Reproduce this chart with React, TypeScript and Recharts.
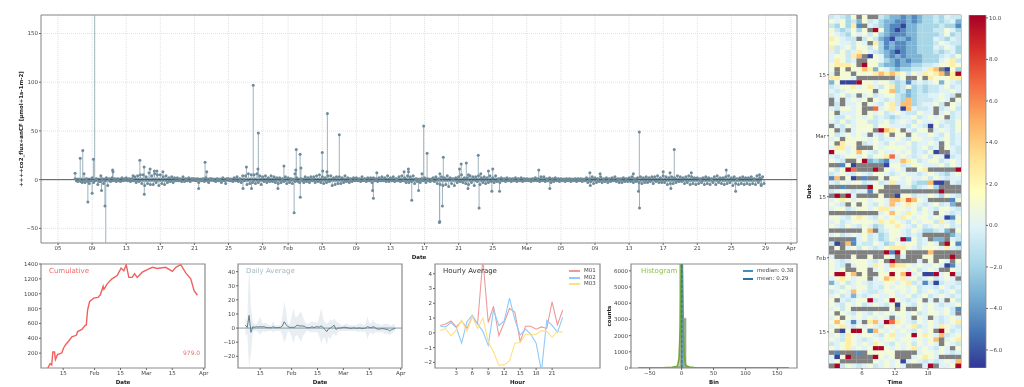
import {
  Area,
  Bar,
  BarChart,
  CartesianGrid,
  ComposedChart,
  ErrorBar,
  Line,
  LineChart,
  ReferenceArea,
  ReferenceLine,
  Scatter,
  ScatterChart,
  XAxis,
  YAxis,
} from 'recharts'

// Flux dashboard: time series on top, four small panels below, heatmap on the right.
// Dates are days of the year (1 = Jan 01).

const FONT = '"DejaVu Sans", sans-serif'
const TICK = { fontSize: 5.5, fill: '#444', fontFamily: FONT }
const TITLE = { fontSize: 5.5, fontWeight: 700, fill: '#222', fontFamily: FONT, textAnchor: 'middle' }
const FRAME = '#8a8a8a'

const mainTickDays = [5, 9, 13, 17, 21, 25, 29, 32, 36, 40, 44, 48, 52, 56, 60, 64, 68, 72, 76, 80, 84, 88, 91]
const mainTickLabels = ['05', '09', '13', '17', '21', '25', '29', 'Feb', '05', '09', '13', '17', '21', '25', 'Mar', '05', '09', '13', '17', '21', '25', '29', 'Apr']
const smallTickDays = [15, 32, 46, 60, 74, 91]
const smallTickLabels = ['15', 'Feb', '15', 'Mar', '15', 'Apr']

// six readings per day, first row is day 7
const fluxBand = [
  [1, -1, -2, 0, -2, -3], [-1, -3, 1, -2, -4, -1], [2, -3, -1, 1, -5, -2], [-2, 1, -4, -1, 2, -6],
  [1, -2, 2, -1, 1, -2], [1, -1, -2, 2, -1, 1], [2, -1, 1, -2, 1, -1], [3, -3, 4, -2, 5, -4],
  [5, -6, 3, -4, 7, -5], [4, -5, 6, -3, 5, -6], [5, -4, 3, -5, 4, -3], [2, -2, 3, -3, 2, -1],
  [2, -1, 1, -2, 3, -2], [1, -1, 2, -2, 1, 1], [1, -1, 1, -3, 0, -1], [1, -2, 2, -1, -3, 1],
  [1, 0, -1, -2, 1, -1], [0, -3, 2, -1, -4, 1], [1, -1, 0, -2, 2, -1], [3, -2, 1, -3, 4, -1],
  [4, -5, 6, -4, 5, -3], [5, -4, 6, -3, 4, -5], [3, -2, 4, -3, 2, -2], [4, -2, 3, -3, 2, -4],
  [2, -3, 1, -2, 3, -4], [2, -3, 1, -4, 0, -2], [2, -2, -3, 1, -1, -3], [3, -2, 2, -3, 3, -1],
  [3, -3, 4, -2, 5, -3], [3, -4, 2, -3, 4, -2], [4, -6, 2, -5, 3, -4], [3, -4, 2, -3, 4, -2],
  [2, -3, 1, -2, 2, -1], [2, -1, 1, -2, 3, -1], [1, -2, 2, -1, 2, -3], [2, -1, 1, -2, 2, -1],
  [3, -1, 2, -2, 4, -2], [2, -1, 3, -2, 1, -1], [3, -2, 4, -1, 2, -3], [4, -3, 3, -2, 4, -4],
  [1, -2, 0, -3, 1, -1], [2, -3, 1, -1, -2, 0], [2, -2, 3, -4, 1, -5], [3, -6, 2, -5, 4, -7],
  [2, -4, 1, -6, 2, -3], [3, -2, 5, -3, 2, -4], [2, -5, 4, -3, 3, -6], [3, -2, 4, -5, 2, -3],
  [3, -4, 2, -3, 4, -2], [2, -3, 4, -2, 1, -3], [2, -1, 1, -2, 2, -1], [1, -2, 1, -1, 2, -2],
  [1, -1, 2, -2, 1, -1], [1, -1, 0, -2, 1, -1], [2, -1, 1, -2, 3, -1], [3, -2, 1, -1, 2, -3],
  [1, -2, 2, -1, 1, -2], [1, -1, 0, -2, 1, -1], [1, -2, 0, -1, 1, -2], [1, -1, 1, -2, 0, -1],
  [2, -3, 1, -2, 3, -4], [2, -3, 1, -2, 3, -3], [1, -2, 2, -3, 1, -2], [2, -1, 3, -2, 1, -3],
  [1, -3, 2, -2, 1, -2], [2, -2, 3, -3, 1, -2], [2, -3, 3, -4, 2, -3], [3, -3, 2, -2, 3, -4],
  [3, -2, 4, -3, 2, -3], [4, -3, 3, -5, 2, -4], [3, -4, 2, -3, 4, -2], [3, -2, 2, -4, 3, -3],
  [4, -5, 3, -4, 2, -5], [2, -4, 1, -3, 2, -5], [3, -4, 2, -5, 1, -3], [3, -5, 4, -3, 2, -4],
  [2, -5, 3, -4, 4, -3], [2, -6, 3, -4, 1, -5], [2, -4, 3, -5, 2, -4], [2, -5, 3, -4, 1, -5],
  [4, -3, 2, -5, 3, -4],
]

const spikeDays = [
  7.0, 7.6, 7.9, 8.05, 8.5, 9.0, 9.15, 9.3, 10.02, 10.1, 10.5, 10.6, 11.4, 11.45, 13.8, 14.6, 15.1, 15.12, 15.8, 16.3,
  16.6, 17.3, 21.5, 22.25, 22.45, 26.7, 27.1, 27.7, 27.9, 28.45, 28.5, 30.8, 31.5, 32.7, 32.8, 32.9, 32.95, 33.4, 33.42, 33.5,
  36.0, 36.05, 36.55, 36.6, 38.0, 41.9, 42.0, 42.4, 45.6, 46.1, 46.12, 46.5, 47.3, 47.7, 47.9, 48.3, 49.75, 49.78, 49.8, 50.1,
  50.2, 52.1, 52.3, 52.9, 53.1, 53.15, 54.3, 54.4, 54.6, 55.5, 55.9, 56.0, 56.8, 61.4, 62.7, 67.4, 67.45, 68.6, 72.5, 73.1,
  73.2, 73.22, 76.0, 76.8, 76.9, 77.3, 79.3, 83.4, 84.5, 87.3, 87.5,
]
const spikeValues = [
  6.5, 22, 30, 6, -23, -14, 21, 262, 4, -11, -27, -200, 10, 8, 4, 20, 13, -15, 11, 9,
  9, 8, -9, 18, 8, -9, 13, -9, 97, 11, 48, -9, 14, -34, 6, 10, 31, 26, -18, 12,
  28, 9, 8, 68, 46, -11, -19, 7, 8, 11, 8, -21, -11, 6, 55, 27, -44, -43, 6, -27,
  23, 11, 16, 17, -9, 5, 25, -29, 6, 9, -12, 11, -12, 10, -9, 7, -6, 6, 6, -12,
  49, -29, 8, 7, -9, 31, 7, 10, -12, 5, -6,
]
const fluxDomain = [-65, 169]

const cumDays = [6.7, 7.9, 8.8, 9.4, 10.3, 10.8, 11.9, 14.3, 15.2, 16.5, 17.9, 19.7, 22.1, 22.8, 25.1, 26.9, 27.5, 28.2, 29.3, 31.5, 33.8, 35.1, 36.6, 37.0, 37.8, 38.7, 41.4, 44.2, 46.3, 47.8, 49.1, 50.5, 52.3, 53.6, 55, 57.8, 60.5, 63.2, 65.9, 70.4, 74.1, 75.9, 78.6, 81.3, 84, 85.8, 87.6]
const cumValues = [0, 60, 40, 215, 215, 115, 180, 205, 270, 320, 360, 420, 440, 490, 520, 575, 580, 780, 895, 940, 950, 985, 1100, 1060, 1090, 1130, 1200, 1245, 1345, 1310, 1390, 1220, 1220, 1270, 1220, 1290, 1325, 1355, 1340, 1355, 1300, 1355, 1390, 1280, 1200, 1040, 979]

const dailyDays = [7, 8, 9, 10, 11, 12, 13, 14, 15, 16, 17, 18, 19, 20, 21, 22, 23, 24, 25, 26, 27, 28, 29, 30, 31, 32, 33, 34, 35, 36, 37, 38, 39, 40, 41, 42, 43, 44, 45, 46, 47, 48, 49, 50, 51, 52, 53, 54, 55, 56, 57, 58, 59, 60, 61, 62, 63, 64, 65, 66, 67, 68, 69, 70, 71, 72, 73, 74, 75, 76, 77, 78, 79, 80, 81, 82, 83, 84, 85, 86, 87, 88]
const dailyMean = [2, 0.5, 9, -3, 1, 0.5, 1, 0.7, 1, 0.8, 1, 0.5, 0.3, 0.3, 0.2, 1, 0.3, 0.3, 0.4, 0.5, 1.5, 4.5, 2.5, 1, 0.5, 0.5, 0.5, 0.8, 2.2, 1.5, 1.5, 1.5, 1.2, 0.3, 0.3, 0.2, 1, 0.3, 0.8, 1, 0.7, 1.5, 0.5, -1, -2.5, -0.5, 0, 1, 2, -1, 0, 0, 0.2, 0.5, 0.6, 0.2, 0, -0.2, 0, 0.1, -0.2, 0, 0.1, -0.3, -0.2, 0, 1, 0.5, 0.2, 1, 0.4, -0.5, -0.8, -0.6, -0.4, -0.5, -0.9, -1, -2, -1.2, -0.6, -0.3]
const dailyHigh = [8, 5, 45, 15, 4, 3, 3, 5, 8, 4, 3, 4, 3, 2, 2, 5, 2, 2, 2, 2, 8, 19, 12, 3, 3, 8, 14, 8, 8, 10, 12, 8, 5, 3, 3, 4, 5, 4, 4, 4, 8, 14, 7, 4, 3, 4, 6, 5, 7, 5, 4, 3, 2, 2, 3, 3, 2, 2, 2, 2, 2, 3, 3, 3, 2, 3, 8, 4, 3, 6, 4, 3, 3, 2, 2, 3, 3, 3, 2, 2, 3, 2]
const dailyLow = [-5, -4, -28, -18, -3, -2, -2, -3, -5, -3, -2, -3, -2, -2, -2, -3, -2, -2, -2, -2, -5, -10, -7, -2, -3, -6, -11, -6, -5, -7, -10, -6, -4, -2, -2, -3, -3, -3, -3, -3, -6, -11, -7, -7, -12, -6, -8, -5, -4, -6, -3, -2, -2, -2, -2, -2, -2, -2, -2, -2, -2, -3, -2, -3, -2, -3, -8, -4, -3, -5, -3, -3, -3, -3, -3, -4, -4, -4, -5, -4, -3, -2]

const hours = [0, 1, 2, 3, 4, 5, 6, 7, 8, 9, 10, 11, 12, 13, 14, 15, 16, 17, 18, 19, 20, 21, 22, 23]
const m01 = [0.5, 0.6, 0.8, 0.4, 0.8, 0.3, 1.1, 0.6, 5, 0.7, 1.8, -0.2, 0.7, 1.65, 1.4, -0.6, 0.45, 0.45, 0.25, 0.4, 0.3, 2.1, 0.55, 1.55]
const m02 = [0.45, 0.4, 0.7, 0.35, -0.7, 0.75, 1.2, 0.6, 0.1, -0.85, 1.55, 0.5, 0.8, 2.35, 0.9, -0.15, 0.25, -0.1, -0.7, -2.6, 0.85, 0.5, 0.05, 1.05]
const m03 = [0.15, 0.3, -0.2, 0.2, 0.85, 0.1, 1.1, 0.3, 1, -0.6, -1.3, -2.2, -2.15, -1.9, -0.7, -0.65, -0.1, -0.15, -0.1, 0.15, 0.1, -0.3, 0.1, 0.05]

const binStarts = [-13, -8, -3, 2, 7, 12]
const binEnds = [-8, -3, 2, 7, 12, 17]
const binCounts = [40, 110, 6500, 3070, 90, 25]
const kdeBins = [-68, -30, -15, -8, -6, -4, -2, -1, 0, 1, 2, 3, 4, 6, 8, 12, 20, 60, 168]
const kdeCounts = [15, 20, 40, 90, 170, 620, 2600, 5200, 7200, 6400, 4400, 2000, 800, 220, 120, 60, 25, 15, 15]

// heatmap, one string per day from latest (top) to earliest; groups are six hours each
// . = no data, a..k = colour level
const heatLevels: Record<string, number> = { a: -6.5, b: -4.6, c: -3.2, d: -1.9, e: -0.8, f: -0.1, g: 0.9, h: 2.6, i: 4.5, j: 6.8, k: 10 }
const heatRows = [
  'efedg. g..edc cbcbcd dedfee', 'gfgdec gefdcc bbcbcd dedefc', 'edgdhb .fedcb baccdd ddeddb',
  'gedegd g.kgcb abccdd deegfd', 'gfedgf gegdcb bbccdd ddegde', 'hgfee. egecba ccbcdd dfedfe',
  'ggffeg f.hdbc bbccdd degfee', 'hefgeg gegdbc bbccdd dfegfd', 'fegefh gfedcb abccdd dedefd',
  'fggehi .agfcb cbcccd ddefeg', 'fhgef. .ggfdc bcbccd ddfghe', 'ghhhg. kggdcc bccdde efgghg',
  'g.g.gg ihcgfd cddeef hi.agd', 'f.gg.g gghihi hgegfh ghi.hk', 'hhggf. ...... eg..g. hggghh',
  'cgaaak ggfgge debefe fgcgfe', 'efgghf ghfegh degded eefgef', 'fefggg gg.ggi decded eeffgf',
  'efgef. fgefgg edcdee ffgfe.', '.f.fgf g.gfef edidee efgf.g', '.e.ffg .gfegh eiidef fge.gf',
  'feggfg ..jfgh faifee f.efge', 'g.fffg .gfgef gfeegf f.fgef', 'geegfg fgefed effgef gfg.ef',
  'fegefg geefge fgfegf fgfeeg', '.fegfg ggeggf ffegfe agefeg', 'g.e.fg gg.kih g.fegg .fgfeg',
  'gefgfg f.feg. gg.gff gfegef', 'fg.ggg gfgeff gfeggf fefgef', 'g.hgg. efgfeg ffgeff gf.gef',
  'fhhfg. ..gfgg ggfefg ef.gfe', 'kggfgi gfegff gfgefe ga..fe', 'fefggf gegghj fgfefg egfaef',
  'gfe..g kcdcbf fihgef ggefgf', '..bga. ....ag gefggf ffgegf', 'gegkj. ..k.gf gf..gh .....k',
  'efgfeg feggfe fgffef gfedfg', 'bi.ga. b..g.g gfgffg egfeff', 'fegfgg efgefh ffgedd iaa.fe',
  '..b... .kgg.. .ffdef gd....', 'efgfef fbg... ...... ..k...', '.k.kf. ...g.. aggeff gfdgfe',
  'fghgfg gfggfi ihjigf ....bg', 'gfe.g. gfegfi fghgfe fgefc.', 'fggefg gfghhf ggfgeg feggfe',
  '...... ...fgi gfhgfg f.gfef', 'ggfegh gfegfg fhgfgg fgfabg', 'fgefgg ggfhgh gfegfg gehfeg',
  'gfegfe gfdegg hgfege fgfgef', '...... gi.efg gfegfd defc.g', 'fgefgf gefdeg gfefe. ....ce',
  '....bf gefdeg fkbgef .cc.fe', 'ea.ibf eegfde gfggef gf.kgb', '.g.fge gfefgh hhgfeg ggfhfe',
  '...... ....kb kg.... i.....', 'f...g. .g..gf .f...g g...k.', 'gfefgg gfeg.k ....f. g.gf.g',
  'gfe.fg gfhgfi hhgfgf fgfabf', 'gfg..g g.fgfg ggfgef gf..gf', 'gkkgi. g..ggk gikfga akfgke',
  'fghgfg g.fgih ghfgef gefgf.', 'cfgefg feffgg fghefb eaeffe', 'gfegfg gefegf ggfgef fegfef',
  'efgfig feefgg fgfgef gfefge', 'fgefcf efgffg ffgefg efgfef', 'g.fefg gkefgk gfefg. f.f.ge',
  'gfegfg efgfeg agfegf gfeffg', 'fgeg.. .....g .g..gf gffgeb', 'g.gfeg fegfgf ggfgef ggfge.',
  'fg.gfg fgfgf. fgf.gf .fefgf', 'gigfbf .hifkj hgfegf gfefgh', 'fghfeg fgfegf gfghef gfhgfe',
  'g.agkk gbigfg fgfegf g.kgef', 'fgehgf ggfegh ffgkgh gfiefg', 'gfehgf efgfgg fggfgf gi.fgh',
  'efghgf gfhgfe gfgegf gf.gfe', 'gfghfg fgkkgf gfghfg fegf.g', '.b...b .ggggg ....fg gfgfef',
  'fagk.. ..kgfg ...fgh gf....', 'fg.... ..gfgf gafgfe fefgfi', '.kegfe fgefgf gf...f k.ffgk',
]
const heatTopDay = 87.2
const colorTicks = [-6, -4, -2, 0, 2, 4, 6, 8, 10]
const colorSpan = [-6.87, 10.14]
const rdYlBu = ['#313695', '#4575b4', '#74add1', '#abd9e9', '#e0f3f8', '#ffffbf', '#fee090', '#fdae61', '#f46d43', '#d73027', '#a50026']

// stems run from the reading back to zero and stop at the frame, error bars are not clipped
const stemOf = (v: number) =>
  v > 0 ? [v, Math.min(0, fluxDomain[1] - v)] : [Math.min(0, v - fluxDomain[0]), -v]

// tables for the charts
const fluxRows = [
  ...fluxBand.flatMap((row, d) => row.map((flux, i) => ({ day: 7 + d + i / 6, flux }))),
  ...spikeDays.map((day, i) => ({ day, flux: spikeValues[i] })),
]
  .sort((a, b) => a.day - b.day)
  .map((r) => ({ ...r, stem: stemOf(r.flux) }))
const cumRows = cumDays.map((day, i) => ({ day, total: cumValues[i] }))
const dailyRows = dailyDays.map((day, i) => ({ day, mean: dailyMean[i], band: [dailyLow[i], dailyHigh[i]] }))
const hourRows = hours.map((hour, i) => ({ hour, m01: m01[i], m02: m02[i], m03: m03[i] }))
const kdeRows = kdeBins.map((bin, i) => ({ bin, kde: kdeCounts[i] }))

const heatColor = (v: number) => {
  const t = (v - colorSpan[0]) / (colorSpan[1] - colorSpan[0])
  const p = Math.min(0.9999, Math.max(0, t)) * (rdYlBu.length - 1)
  const i = Math.floor(p)
  const hex = (s: string, k: number) => parseInt(s.slice(k, k + 2), 16)
  const mix = (k: number) => Math.round(hex(rdYlBu[i], k) + (hex(rdYlBu[i + 1], k) - hex(rdYlBu[i], k)) * (p - i))
  return `rgb(${mix(1)},${mix(3)},${mix(5)})`
}
const heatPoints = heatRows.flatMap((row, r) =>
  row.replace(/ /g, '').split('').map((c, h) => ({
    hour: h + 0.5,
    day: heatTopDay - r,
    fill: c === '.' ? '#808080' : heatColor(heatLevels[c]),
  })),
)

const minus = (v: number | string) => String(v).replace('-', '\u2212')
const mainLabel = (v: number) => mainTickLabels[mainTickDays.indexOf(v)]
const smallLabel = (v: number) => smallTickLabels[smallTickDays.indexOf(v)]

const LEFT = 40
const RIGHT = 6
const TOP = 6
const BOTTOM = 22
const margin = { top: TOP, right: RIGHT, left: 0, bottom: 0 }
const axisX = { height: BOTTOM, tick: TICK, tickSize: 2, tickMargin: 1, axisLine: false, tickLine: { stroke: '#666' }, interval: 0 as const, allowDataOverflow: true }
const axisY = { width: LEFT, tick: TICK, tickSize: 2, tickMargin: 1, axisLine: false, tickLine: { stroke: '#666' }, interval: 0 as const, allowDataOverflow: true }
const dayDomain = [3, 91.7]
const xTitle = (value: string) => ({ value, position: 'insideBottom' as const, offset: 6, style: TITLE })
const yTitle = (value: string, offset: number) => ({ value, angle: -90, position: 'insideLeft' as const, offset, style: TITLE })

// place a chart so that its plot area lands on the given rectangle
const size = (x0: number, y0: number, x1: number, y1: number) => ({
  width: x1 - x0 + LEFT + RIGHT,
  height: y1 - y0 + TOP + BOTTOM,
  style: { position: 'absolute' as const, left: x0 - LEFT, top: y0 - TOP },
})

function Frame({ x, y, width = 1.2 }: { x: number[]; y: number[]; width?: number }) {
  return (
    <ReferenceArea x1={x[0]} x2={x[1]} y1={y[0]} y2={y[1]} fill="none" stroke={FRAME} strokeWidth={width} ifOverflow="visible" />
  )
}

function Note({ x, y, color, size: fs = 7, children }: any) {
  return (
    <span style={{ position: 'absolute', left: x, top: y, color, fontSize: fs, lineHeight: 1, fontFamily: FONT, whiteSpace: 'pre' }}>
      {children}
    </span>
  )
}

function Key({ x, y, w, color, dashed, children }: any) {
  return (
    <>
      <span style={{ position: 'absolute', left: x, top: y + 2, width: w, borderTop: `2px ${dashed ? 'dashed' : 'solid'} ${color}` }} />
      <Note x={x + w + 4} y={y} color="#444" size={5.5}>{children}</Note>
    </>
  )
}

export default function App() {
  return (
    <div style={{ position: 'absolute', left: 0, top: 0, width: 1024, height: 387, background: '#fff', overflow: 'hidden', filter: 'blur(0.35px)' }}>
      <ComposedChart {...size(41, 15, 797, 243)} data={fluxRows} margin={margin}>
        <CartesianGrid stroke="#cfd8dc" strokeDasharray="1 1" strokeWidth={0.7} />
        <XAxis dataKey="day" type="number" domain={dayDomain} ticks={mainTickDays} tickFormatter={mainLabel} label={xTitle('Date')} {...axisX} />
        <YAxis type="number" domain={fluxDomain} ticks={[-50, 0, 50, 100, 150]} tickFormatter={minus} label={yTitle('++++co2_flux+anCF  [\u00b5mol+1s-1m-2]', 20)} {...axisY} />
        <ReferenceLine segment={[{ x: 7, y: 0 }, { x: 87.6, y: 0 }]} stroke="#6f8b99" strokeWidth={4} />
        <Line dataKey="flux" stroke="none" dot={{ r: 1.5, fill: '#6f8b99', stroke: 'none' }} activeDot={false} isAnimationActive={false}>
          <ErrorBar dataKey="stem" direction="y" width={0} stroke="#9fb3be" strokeWidth={1} isAnimationActive={false} />
        </Line>
        <ReferenceLine y={0} stroke="#37474f" strokeWidth={0.9} />
        <Frame x={dayDomain} y={fluxDomain} width={1} />
      </ComposedChart>

      <LineChart {...size(41, 264, 205, 368)} data={cumRows} margin={margin}>
        <XAxis dataKey="day" type="number" domain={dayDomain} ticks={smallTickDays} tickFormatter={smallLabel} label={xTitle('Date')} {...axisX} />
        <YAxis type="number" domain={[0, 1400]} ticks={[200, 400, 600, 800, 1000, 1200, 1400]} {...axisY} />
        <Line dataKey="total" stroke="#f0605e" strokeWidth={1.4} dot={false} isAnimationActive={false} />
        <Frame x={dayDomain} y={[0, 1400]} />
      </LineChart>
      <Note x={49} y={268} color="#ef6a68">Cumulative</Note>
      <Note x={183} y={350} color="#ef6a68" size={6}>979.0</Note>

      <ComposedChart {...size(238, 264, 402, 368)} data={dailyRows} margin={margin}>
        <XAxis dataKey="day" type="number" domain={dayDomain} ticks={smallTickDays} tickFormatter={smallLabel} label={xTitle('Date')} {...axisX} />
        <YAxis type="number" domain={[-28.3, 45.4]} ticks={[-20, -10, 0, 10, 20, 30, 40]} tickFormatter={minus} {...axisY} />
        <Area dataKey="band" stroke="none" fill="#e8eef1" fillOpacity={1} isAnimationActive={false} />
        <ReferenceLine y={0} stroke="#78909c" strokeWidth={0.9} />
        <Line dataKey="mean" stroke="#607d8b" strokeWidth={1} dot={false} isAnimationActive={false} />
        <Frame x={dayDomain} y={[-28.3, 45.4]} />
      </ComposedChart>
      <Note x={246} y={268} color="#a5b8c2">Daily Average</Note>

      <LineChart {...size(435, 264, 600, 368)} data={hourRows} margin={margin}>
        <XAxis dataKey="hour" type="number" domain={[-1, 30]} ticks={[3, 6, 9, 12, 15, 18, 21]} label={xTitle('Hour')} {...axisX} />
        <YAxis type="number" domain={[-2.38, 4.66]} ticks={[-2, -1, 0, 1, 2, 3, 4]} tickFormatter={minus} {...axisY} />
        <Line dataKey="m01" stroke="#ef9a9a" strokeWidth={1.1} dot={false} isAnimationActive={false} />
        <Line dataKey="m02" stroke="#90caf9" strokeWidth={1.1} dot={false} isAnimationActive={false} />
        <Line dataKey="m03" stroke="#ffe082" strokeWidth={1.1} dot={false} isAnimationActive={false} />
        <Frame x={[-1, 30]} y={[-2.38, 4.66]} />
      </LineChart>
      <Note x={443} y={268} color="#333">Hourly Average</Note>
      <Key x={569} y={268} w={11} color="#ef9a9a">M01</Key>
      <Key x={569} y={274.5} w={11} color="#90caf9">M02</Key>
      <Key x={569} y={281} w={11} color="#ffe082">M03</Key>

      <ComposedChart {...size(631, 264, 797, 368)} data={kdeRows} margin={margin}>
        <XAxis dataKey="bin" type="number" domain={[-79.3, 180.8]} ticks={[-50, 0, 50, 100, 150]} tickFormatter={minus} label={xTitle('Bin')} {...axisX} />
        <YAxis type="number" domain={[0, 6420]} ticks={[0, 1000, 2000, 3000, 4000, 5000, 6000]} label={yTitle('counts', 18)} {...axisY} />
        {binCounts.map((count, i) => (
          <ReferenceArea key={i} x1={binStarts[i]} x2={binEnds[i]} y1={0} y2={count} fill="#9fae95" fillOpacity={1} stroke="#8c968a" strokeWidth={0.4} ifOverflow="hidden" />
        ))}
        <Line dataKey="kde" stroke="#6ea63a" strokeWidth={1.6} dot={false} isAnimationActive={false} />
        <ReferenceLine x={0.38} stroke="#3f8fc4" strokeWidth={1.3} />
        <ReferenceLine x={0.29} stroke="#2f6f9f" strokeWidth={1} strokeDasharray="3 2" />
        <Frame x={[-79.3, 180.8]} y={[0, 6420]} />
      </ComposedChart>
      <Note x={641} y={268} color="#8bc34a">Histogram</Note>
      <Key x={743} y={268} w={10} color="#3f8fc4">median: 0.38</Key>
      <Key x={743} y={276} w={10} color="#2f6f9f" dashed>mean: 0.29</Key>

      <ScatterChart {...size(829, 15, 961, 368)} margin={margin}>
        <XAxis dataKey="hour" type="number" domain={[0, 24]} ticks={[6, 12, 18]} label={xTitle('Time')} {...axisX} />
        <YAxis dataKey="day" type="number" domain={[6.7, 87.7]} ticks={smallTickDays.slice(0, 5)} tickFormatter={smallLabel} label={yTitle('Date', 20)} {...axisY} />
        <Scatter
          data={heatPoints}
          isAnimationActive={false}
          shape={(p: any) => <rect x={p.cx - 2.85} y={p.cy - 2.28} width={5.7} height={4.56} fill={p.payload.fill} />}
        />
        <Frame x={[0, 24]} y={[6.7, 87.7]} width={1} />
      </ScatterChart>

      <BarChart
        width={87}
        height={381}
        style={{ position: 'absolute', left: 929, top: 9 }}
        data={[{ span: colorSpan }]}
        margin={{ top: TOP, left: LEFT, right: 0, bottom: BOTTOM }}
        barCategoryGap={0}
      >
        <defs>
          <linearGradient id="rdylbu" x1="0" y1="1" x2="0" y2="0">
            {rdYlBu.map((c, i) => (
              <stop key={c} offset={i / (rdYlBu.length - 1)} stopColor={c} />
            ))}
          </linearGradient>
        </defs>
        <XAxis hide />
        <YAxis orientation="right" type="number" domain={colorSpan} ticks={colorTicks} tickFormatter={(v) => minus(v.toFixed(1))} {...axisY} width={30} />
        <Bar dataKey="span" fill="url(#rdylbu)" stroke={FRAME} strokeWidth={0.8} isAnimationActive={false} />
      </BarChart>
    </div>
  )
}
